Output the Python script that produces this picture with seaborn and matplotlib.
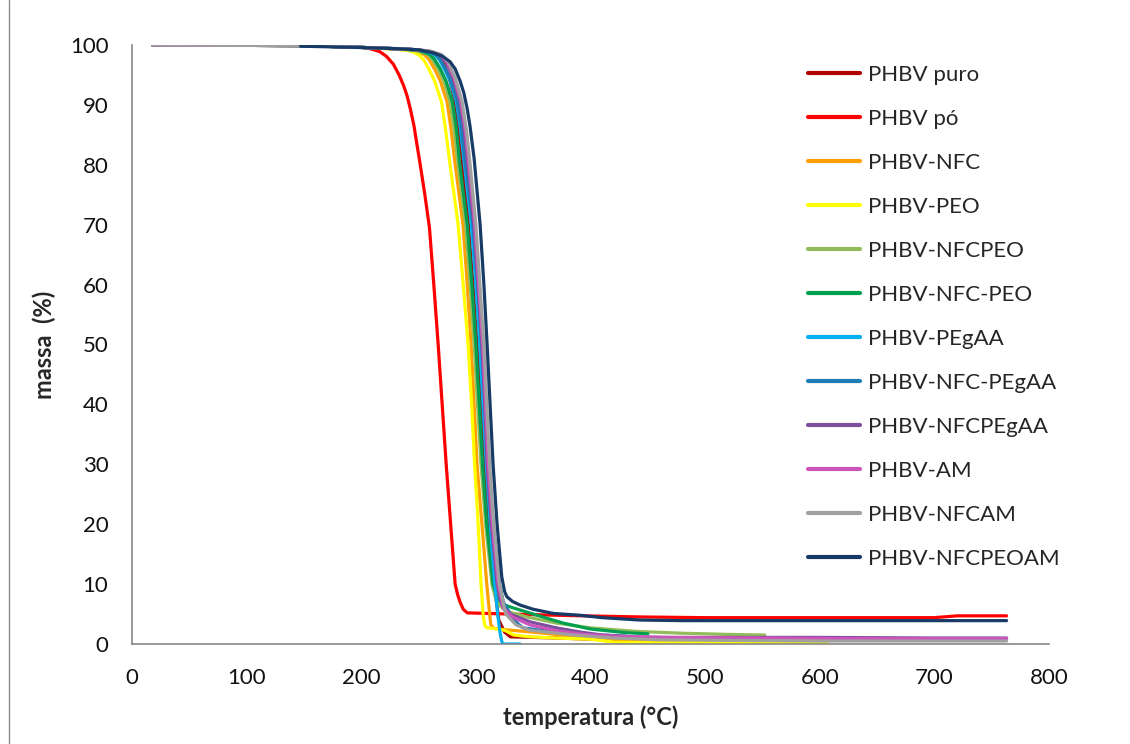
import matplotlib
matplotlib.use("Agg")
import matplotlib.pyplot as plt
from matplotlib.lines import Line2D
import seaborn as sns
import pandas as pd

# TGA curves: temperature (°C) and residual mass (%) per sample
puro_T = [18, 150, 200, 240, 258, 266, 272, 277, 282, 285.5, 288.5, 293.5, 297.5, 301, 304, 307, 311, 316, 320, 325, 330, 371, 400, 430]
puro_m = [100, 99.9, 99.6, 99.3, 99, 98.3, 96.8, 94.3, 90.5, 85.5, 80, 70, 60, 50, 40, 30, 20, 10, 4, 2, 1.2, 1.0, 0.8, 0.6]

po_T = [18, 150, 195, 205, 211, 216, 222, 228, 233, 237, 240, 243, 246, 248.5, 251.3, 255.5, 259.5, 263.3, 267.1, 270.6, 274.1, 278, 281.9, 284, 286.2, 289, 292.5, 310, 330, 370, 420, 450, 500, 600, 700, 720, 763]
po_m = [100, 99.9, 99.7, 99.5, 99.2, 98.9, 98.1, 96.8, 95, 93.2, 91.5, 89.2, 86.5, 83.5, 80.2, 75, 69.5, 60, 50, 40, 30, 20, 10, 8.3, 7, 5.8, 5.2, 5.1, 5.0, 4.8, 4.6, 4.5, 4.4, 4.4, 4.4, 4.7, 4.7]

nfc_T = [18, 150, 200, 233, 247, 255, 259, 264, 269, 274.9, 278.3, 282, 288.8, 292.5, 295.8, 298.5, 301, 305.3, 309.5, 311.5, 313, 316, 325, 348, 370, 400, 421, 450, 500, 600]
nfc_m = [100, 99.9, 99.6, 99.3, 99, 98.4, 97.6, 96, 94, 90.5, 86, 80, 70, 60, 50, 40, 30, 20, 10, 6, 3.2, 2.6, 2.4, 2.0, 1.6, 1.1, 0.8, 0.6, 0.5, 0.5]

peo_T = [18, 150, 200, 230, 243, 250, 254.2, 259, 264, 270, 273.5, 277.5, 284.5, 289, 293.2, 296.3, 298.9, 302, 304.5, 306.5, 308, 310, 315, 325, 333, 347, 370, 400, 421, 450, 500, 550, 607]
peo_m = [100, 99.9, 99.6, 99.3, 99, 98.4, 97.6, 96, 94, 90.5, 86, 80, 70, 60, 50, 40, 30, 20, 10, 4.5, 3, 2.7, 2.6, 2.3, 1.5, 1.2, 1.0, 0.8, 0.3, 0.2, 0.2, 0.2, 0.2]

nfcpeo_T = [18, 150, 200, 236, 250, 258, 262, 267, 272, 277.5, 281, 284.5, 291, 295, 298.5, 301.5, 304.5, 308.5, 314, 318, 326, 345, 370, 400, 440, 480, 520, 552]
nfcpeo_m = [100, 99.9, 99.6, 99.3, 99, 98.4, 97.6, 96, 94, 90.5, 86, 80, 70, 60, 50, 40, 30, 20, 10, 7, 5.5, 4.5, 3.5, 2.7, 2.1, 1.8, 1.6, 1.5]

nfc_peo_T = [18, 150, 200, 238, 252, 260, 264, 269, 274, 279.5, 283, 286, 292.5, 296.5, 300, 303, 305.8, 309.5, 315, 319, 325, 333, 350, 376, 400, 430, 450]
nfc_peo_m = [100, 99.9, 99.6, 99.3, 99, 98.4, 97.6, 96, 94, 90.5, 86, 80, 70, 60, 50, 40, 30, 20, 10, 7.5, 6.5, 6, 5, 3.5, 2.5, 1.9, 1.7]

pegaa_T = [18, 150, 200, 242, 256, 264, 268, 272.5, 277.5, 283, 286.5, 290, 296, 300, 303.3, 306.2, 309, 312.5, 316.5, 319, 321, 322.5, 323.5, 338.6]
pegaa_m = [100, 99.9, 99.6, 99.3, 99, 98.4, 97.6, 96, 94, 90.5, 86, 80, 70, 60, 50, 40, 30, 20, 10, 5, 2, 0.5, 0, 0]

nfc_pegaa_T = [18, 150, 200, 243, 257, 265, 269, 273.5, 278.5, 284, 287.5, 291, 297.5, 301.5, 305, 308, 311, 315, 320.5, 324, 330, 336, 341, 360, 382, 410, 432]
nfc_pegaa_m = [100, 99.9, 99.6, 99.3, 99, 98.4, 97.6, 96, 94, 90.5, 86, 80, 70, 60, 50, 40, 30, 20, 10, 7, 5, 3.5, 2.7, 2.2, 1.8, 1.5, 1.3]

nfcpegaa_T = [18, 150, 200, 240, 258, 268, 274, 280, 286.2, 290, 293, 298.4, 302, 305.4, 307.7, 309.8, 313.5, 318.5, 321, 324, 330, 347.3, 370, 390.9, 410, 434.6, 470, 500, 600, 700, 763]
nfcpegaa_m = [100, 99.9, 99.6, 99.3, 99, 98.4, 97.2, 94.5, 90.5, 85.5, 80, 70, 60, 50, 40, 30, 20, 10, 7.5, 6, 5, 3.7, 2.7, 2.0, 1.5, 1.2, 1.1, 1.1, 1.1, 1.0, 1.0]

am_T = [18, 150, 200, 241, 259, 269, 275, 281, 287, 291, 294, 299, 302.5, 306, 308.5, 310.8, 314.5, 319.5, 324, 332, 347, 370, 395, 420, 460, 550, 650, 763]
am_m = [100, 99.9, 99.6, 99.3, 99, 98.4, 97.2, 94.5, 90.5, 85.5, 80, 70, 60, 50, 40, 30, 20, 10, 6, 4.5, 3.2, 2.2, 1.6, 1.3, 1.1, 1.0, 0.9, 0.9]

nfcam_T = [18, 150, 200, 242, 260, 270, 276, 282, 288, 292, 295, 300, 303.5, 307, 309.5, 312, 315.5, 320.5, 326, 335, 347, 385, 420, 460, 520, 600, 763]
nfcam_m = [100, 99.9, 99.6, 99.3, 99, 98.4, 97.2, 94.5, 90.5, 85.5, 80, 70, 60, 50, 40, 30, 20, 10, 5, 3.2, 2.3, 1.5, 1.0, 0.7, 0.6, 0.5, 0.5]

nfcpeoam_T = [147, 195, 230, 250, 262.9, 271, 277.5, 282, 286.2, 289.5, 292.3, 295, 298.5, 303.7, 307, 309.8, 312.4, 315, 318.5, 322.6, 325, 327, 332, 338.6, 350, 367.6, 390.9, 410, 443.3, 480, 550, 650, 763]
nfcpeoam_m = [99.8, 99.6, 99.4, 99.2, 98.7, 98.1, 97.2, 96, 94, 92.0, 89.5, 86.3, 81, 70, 60, 50, 40, 30, 20, 11.2, 8.8, 7.9, 7.1, 6.5, 5.8, 5.1, 4.8, 4.4, 4.0, 3.9, 3.9, 3.9, 3.9]

samples = ["PHBV puro", "PHBV pó", "PHBV-NFC", "PHBV-PEO", "PHBV-NFCPEO", "PHBV-NFC-PEO",
           "PHBV-PEgAA", "PHBV-NFC-PEgAA", "PHBV-NFCPEgAA", "PHBV-AM", "PHBV-NFCAM", "PHBV-NFCPEOAM"]
temps = [puro_T, po_T, nfc_T, peo_T, nfcpeo_T, nfc_peo_T, pegaa_T, nfc_pegaa_T, nfcpegaa_T, am_T, nfcam_T, nfcpeoam_T]
masses = [puro_m, po_m, nfc_m, peo_m, nfcpeo_m, nfc_peo_m, pegaa_m, nfc_pegaa_m, nfcpegaa_m, am_m, nfcam_m, nfcpeoam_m]
colors = ["#B00000", "#FF0000", "#FFA000", "#FFFF00", "#92BC5A", "#00A050",
          "#00B0F0", "#1E7DB4", "#7B4F9D", "#CC55BB", "#A0A0A0", "#173B66"]

x_ticks = [0, 100, 200, 300, 400, 500, 600, 700, 800]
y_ticks = [0, 10, 20, 30, 40, 50, 60, 70, 80, 90, 100]

frames = [pd.DataFrame({"temperatura": t, "massa": m, "amostra": s})
          for s, t, m in zip(samples, temps, masses)]
df = pd.concat(frames, ignore_index=True)
palette = dict(zip(samples, colors))

sns.set_style("white")
plt.rcParams["font.family"] = ["Lato", "DejaVu Sans"]

fig = plt.figure(figsize=(11.3, 7.44), dpi=100)
ax = fig.add_axes([132 / 1130, 100 / 744, 917 / 1130, 599 / 744])

sns.lineplot(data=df, x="temperatura", y="massa", hue="amostra", hue_order=samples,
             palette=palette, estimator=None, sort=False, linewidth=2.3,
             legend=False, ax=ax)

ax.set_xlim(0, 800)
ax.set_ylim(0, 100)
ax.set_xticks(x_ticks)
ax.set_yticks(y_ticks)
ax.tick_params(axis="x", direction="in", length=6, width=1, color="#868686",
               pad=17, labelsize=16, labelcolor="#111111")
ax.tick_params(axis="y", direction="out", length=6, width=1, color="#868686",
               pad=11, labelsize=16, labelcolor="#111111")
for side in ["top", "right"]:
    ax.spines[side].set_visible(False)
for side in ["left", "bottom"]:
    ax.spines[side].set_color("#868686")
    ax.spines[side].set_linewidth(1.2)

ax.set_xlabel("temperatura (°C)", fontsize=17, fontweight="bold", labelpad=13)
ax.set_ylabel("massa  (%)", fontsize=17, fontweight="bold", labelpad=10)

handles = [Line2D([], [], color=c, linewidth=3) for c in colors]
fig.legend(handles, samples, loc="upper left", bbox_to_anchor=(808 / 1130, 1 - 65 / 744),
           frameon=False, fontsize=16, handlelength=2.35, handletextpad=0.36,
           labelspacing=1.08, borderpad=0, borderaxespad=0)

# chart-area border on the left edge
fig.add_artist(Line2D([8.5 / 1130, 8.5 / 1130], [0, 1], transform=fig.transFigure,
                      color="#8c8c8c", linewidth=1))

fig.savefig("out.png", dpi=100)
